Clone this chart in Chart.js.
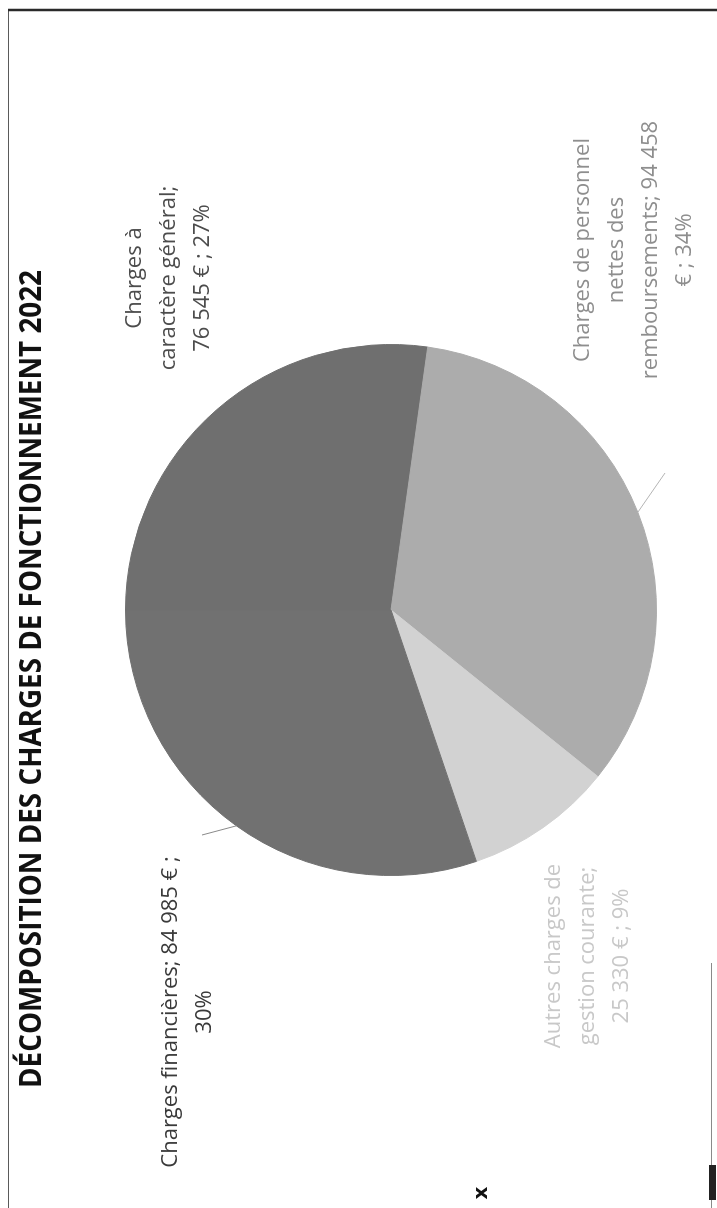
<!DOCTYPE html>
<html lang="fr">
<head>
<meta charset="utf-8">
<title>Décomposition des charges de fonctionnement 2022</title>
<script src="https://cdn.jsdelivr.net/npm/chart.js@4.4.1/dist/chart.umd.min.js"></script>
<style>
  html, body { margin: 0; padding: 0; background: #fff; overflow: hidden; }
  body { width: 717px; height: 1208px; position: relative; }
  /* la page scannée est tournée d'un quart de tour */
  #sheet {
    position: absolute; left: 0; top: 0;
    width: 1208px; height: 717px;
    transform-origin: 0 0;
    transform: translateY(1208px) rotate(-90deg);
  }
  #sheet canvas { display: block; }
</style>
</head>
<body>
<div id="sheet"><canvas id="pie-chart" width="1208" height="717"></canvas></div>
<script>
// données
const chartTitle = "DÉCOMPOSITION DES CHARGES DE FONCTIONNEMENT 2022";
const categories = [
  "Charges à caractère général",
  "Charges de personnel nettes des remboursements",
  "Autres charges de gestion courante",
  "Charges financières"
];
const values = [76545, 94458, 25330, 84985];

const sliceColors = ['#6f6f6f', '#acacac', '#d2d2d2', '#717171'];
const labelColors = ['#4c4c4c', '#8e8e8e', '#c8c8c8', '#3a3a3a'];

const total = values.reduce((a, b) => a + b, 0);
const pct = values.map(v => Math.round(v / total * 100) + "%");
const euros = values.map(v => String(v).replace(/\B(?=(\d{3})+(?!\d))/g, " "));

// texte des étiquettes, coupé comme dans Excel
const labelLines = [
  ["Charges à", "caractère général;", `${euros[0]} € ; ${pct[0]}`],
  ["Charges de personnel", "nettes des", `remboursements; ${euros[1]}`, `€ ; ${pct[1]}`],
  ["Autres charges de", "gestion courante;", `${euros[2]} € ; ${pct[2]}`],
  [`Charges financières; ${euros[3]} € ;`, pct[3]]
];

// placement (repère paysage)
const labelAnchors = [
  { x: 930, y: 135 },
  { x: 958, y: 583 },
  { x: 252, y: 554 },
  { x: 196, y: 171 }
];
const leaderStarts = [null, { x: 735, y: 665 }, null, { x: 373, y: 202 }];
const LINE_H = 34;

const decorPlugin = {
  id: 'decor',
  beforeDraw(chart) {
    const ctx = chart.ctx;
    ctx.save();
    ctx.fillStyle = '#fff';
    ctx.fillRect(0, 0, chart.width, chart.height);
    // cadre du graphique
    ctx.strokeStyle = '#5a5a5a';
    ctx.lineWidth = 1.2;
    ctx.beginPath(); ctx.moveTo(0, 8.5); ctx.lineTo(1198, 8.5); ctx.stroke();
    ctx.strokeStyle = '#2a2a2a';
    ctx.lineWidth = 2.5;
    ctx.beginPath(); ctx.moveTo(1198, 8); ctx.lineTo(1198, 717); ctx.stroke();
    ctx.strokeStyle = '#8a8a8a';
    ctx.lineWidth = 1;
    ctx.beginPath(); ctx.moveTo(0, 711.5); ctx.lineTo(245, 711.5); ctx.stroke();
    ctx.fillStyle = '#222';
    ctx.fillRect(8, 709, 35, 7);
    ctx.restore();
  },
  afterDatasetsDraw(chart) {
    const ctx = chart.ctx;
    const meta = chart.getDatasetMeta(0);
    ctx.save();

    // titre
    ctx.fillStyle = '#111';
    ctx.font = "bold 30px 'Open Sans'";
    ctx.textAlign = 'center';
    ctx.textBaseline = 'middle';
    const tw = ctx.measureText(chartTitle).width;
    ctx.save();
    ctx.translate(529, 32);
    ctx.scale(818 / tw, 1);
    ctx.fillText(chartTitle, 0, 0);
    ctx.restore();

    // traits de rappel
    meta.data.forEach((arc, i) => {
      const s = leaderStarts[i];
      if (!s) return;
      const p = arc.getProps(['x', 'y', 'startAngle', 'endAngle', 'outerRadius'], true);
      const mid = (p.startAngle + p.endAngle) / 2;
      ctx.strokeStyle = i === 3 ? '#8a8a8a' : '#b5b5b5';
      ctx.lineWidth = 1;
      ctx.beginPath();
      ctx.moveTo(s.x, s.y);
      ctx.lineTo(p.x + Math.cos(mid) * p.outerRadius, p.y + Math.sin(mid) * p.outerRadius);
      ctx.stroke();
    });

    // étiquettes de données
    ctx.font = "22px 'Open Sans'";
    labelLines.forEach((lines, i) => {
      ctx.fillStyle = labelColors[i];
      lines.forEach((txt, k) => {
        ctx.fillText(txt, labelAnchors[i].x, labelAnchors[i].y + k * LINE_H);
      });
    });

    // petite croix en marge
    ctx.fillStyle = '#111';
    ctx.font = "bold 20px 'DejaVu Sans'";
    ctx.fillText('x', 15, 482);
    ctx.restore();
  }
};

const ctx = document.getElementById('pie-chart').getContext('2d');
new Chart(ctx, {
  type: 'pie',
  data: {
    labels: categories,
    datasets: [{
      data: values,
      backgroundColor: sliceColors,
      borderColor: sliceColors,
      borderWidth: 1
    }]
  },
  options: {
    responsive: false,
    animation: false,
    layout: { padding: { left: 332, right: 344, top: 125, bottom: 60 } },
    plugins: {
      legend: { display: false },
      tooltip: { enabled: false }
    }
  },
  plugins: [decorPlugin]
});
</script>
</body>
</html>
